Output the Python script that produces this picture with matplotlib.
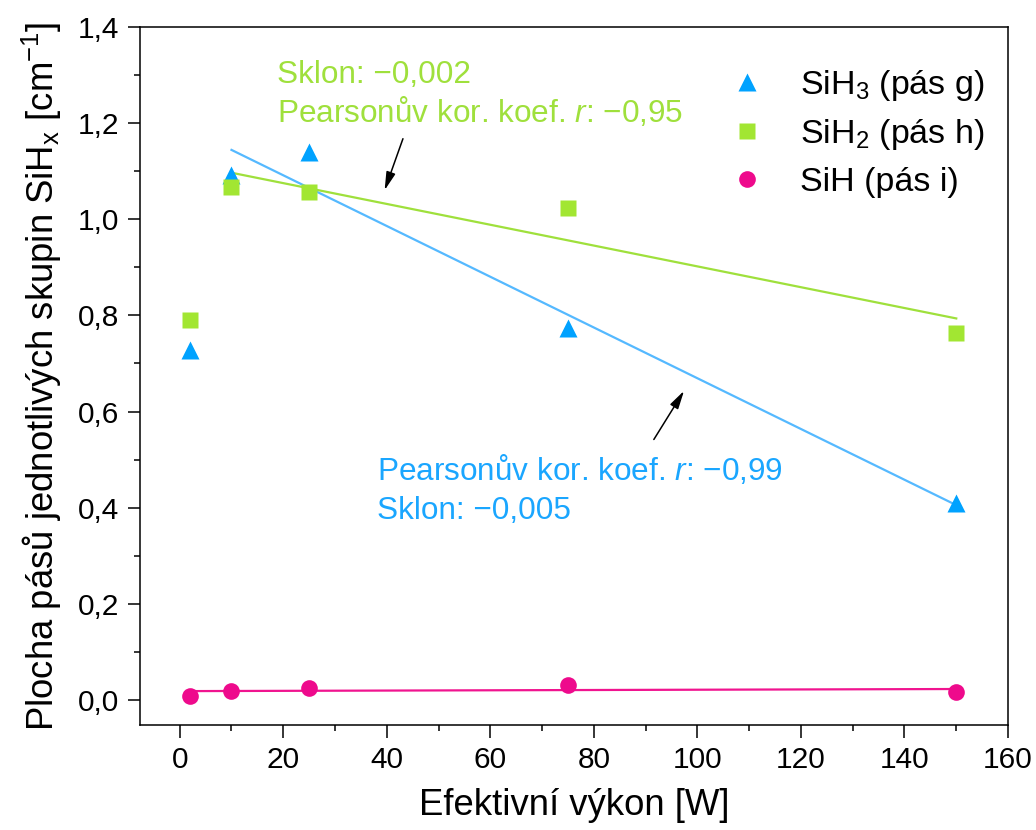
import numpy as np
import matplotlib
matplotlib.use("Agg")
import matplotlib.pyplot as plt
from matplotlib.ticker import MultipleLocator, FuncFormatter

plt.rcParams['font.family'] = ['Liberation Sans', 'DejaVu Sans']
plt.rcParams['mathtext.fontset'] = 'custom'
plt.rcParams['mathtext.rm'] = 'Liberation Sans'
plt.rcParams['mathtext.it'] = 'Liberation Sans:italic'

# data
power = [2, 10, 25, 75, 150]
sih3 = [0.728, 1.092, 1.140, 0.774, 0.410]
sih2 = [0.790, 1.067, 1.057, 1.024, 0.763]
sih = [0.009, 0.019, 0.024, 0.031, 0.017]

c_blue, c_blue_line = '#00A2FF', '#55B9FF'
c_green, c_green_line = '#A2E632', '#9FE03C'
c_pink, c_pink_line = '#EE0A8C', '#F0148F'

fig = plt.figure(figsize=(10.36, 8.30), dpi=100)
ax = fig.add_axes([0.135, 0.1265, 0.838, 0.841])

# linear fits (SiH3 and SiH2 from 10 W on, SiH over all points)
def fit_line(x, y):
    k, q = np.polyfit(x, y, 1)
    xs = np.array([min(x), max(x)])
    return xs, k * xs + q

xs, ys = fit_line(power[1:], sih3[1:])
ax.plot(xs, ys, color=c_blue_line, lw=1.6, zorder=2)
xs, ys = fit_line(power[1:], sih2[1:])
ax.plot(xs, ys, color=c_green_line, lw=1.6, zorder=2)
xs, ys = fit_line(power, sih)
ax.plot(xs, ys, color=c_pink_line, lw=1.6, zorder=2)

ax.plot(power, sih3, '^', ms=13, color=c_blue, mec='none', label='SiH$_3$ (pás g)', zorder=3)
ax.plot(power, sih2, 's', ms=11, color=c_green, mec='none', label='SiH$_2$ (pás h)', zorder=3)
ax.plot(power, sih, 'o', ms=12, color=c_pink, mec='none', label='SiH (pás i)', zorder=3)

ax.set_xlim(-7.7, 160)
ax.set_ylim(-0.052, 1.4)
ax.xaxis.set_major_locator(MultipleLocator(20))
ax.xaxis.set_minor_locator(MultipleLocator(10))
ax.yaxis.set_major_locator(MultipleLocator(0.2))
ax.yaxis.set_minor_locator(MultipleLocator(0.1))
ax.yaxis.set_major_formatter(FuncFormatter(lambda v, p: f"{v:.1f}".replace('.', ',')))
ax.tick_params(which='major', direction='out', length=9, width=1.1, labelsize=21.5, pad=6)
ax.tick_params(which='minor', direction='out', length=4.5, width=1.1)
ax.tick_params(top=False, right=False, which='both')
for s in ax.spines.values():
    s.set_linewidth(1.1)

ax.set_xlabel('Efektivní výkon [W]', fontsize=26.3, labelpad=10)
ax.set_ylabel('Plocha pásů jednotlivých skupin SiH$_\\mathrm{x}$ [cm$^{-1}$]', fontsize=26.3, labelpad=10)

arrow = dict(arrowstyle='-|>,head_length=1.1,head_width=0.28', color='black', lw=1.1)
ax.annotate('', xy=(39.4, 1.055), xytext=(43.3, 1.173), arrowprops=arrow)
ax.annotate('', xy=(97.7, 0.648), xytext=(91.3, 0.537), arrowprops=arrow)

ax.text(18.7, 1.30, 'Sklon: −0,002', color=c_green_line, fontsize=22.7, va='center', ha='left')
ax.text(18.7, 1.223, 'Pearsonův kor. koef. $r$: −0,95', color=c_green_line, fontsize=22.7, va='center', ha='left')
ax.text(38.2, 0.478, 'Pearsonův kor. koef. $r$: −0,99', color='#1AA6FF', fontsize=22.7, va='center', ha='left')
ax.text(38.2, 0.393, 'Sklon: −0,005', color='#1AA6FF', fontsize=22.7, va='center', ha='left')

ax.legend(loc='upper right', frameon=False, fontsize=24.5, handletextpad=0.55,
          labelspacing=0.42, borderaxespad=0.6, bbox_to_anchor=(1.012, 0.99))

fig.savefig('out.png', dpi=100)
